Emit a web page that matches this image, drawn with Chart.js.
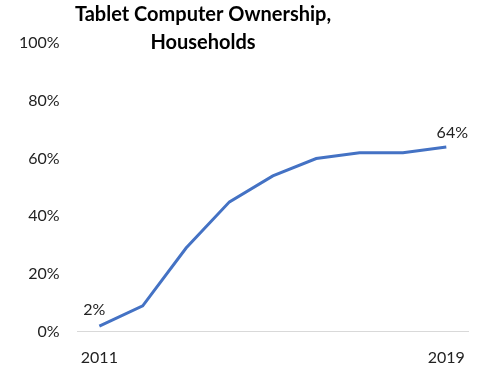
<!DOCTYPE html>
<html><head><meta charset="utf-8">
<script src="https://cdn.jsdelivr.net/npm/chart.js@4"></script>
<style>html,body{margin:0;padding:0;background:#fff}#wrap{width:483px;height:367px}</style>
</head><body><div id="wrap"><canvas id="c"></canvas></div>
<script>
const years = ['2011','2012','2013','2014','2015','2016','2017','2018','2019'];
const ownership = [2, 9, 29, 45, 54, 60, 62, 62, 64];
const yTicks = [0, 20, 40, 60, 80, 100];
const titleLines = ['Tablet Computer Ownership,', 'Households'];
const shownXLabels = ['2011', '2019'];

const FONT = "Lato, 'Open Sans', sans-serif";

const overlay = {
  id: 'overlay',
  afterDraw(chart) {
    const ctx = chart.ctx;
    ctx.save();
    ctx.fillStyle = '#000';
    ctx.font = "bold 20px " + FONT;
    ctx.textAlign = 'center';
    ctx.textBaseline = 'middle';
    ctx.fillText(titleLines[0], 203, 15);
    ctx.fillText(titleLines[1], 203, 43);
    const meta = chart.getDatasetMeta(0);
    ctx.font = "16px " + FONT;
    ctx.fillStyle = '#222';
    const first = meta.data[0], last = meta.data[meta.data.length - 1];
    ctx.fillText(ownership[0] + '%', first.x - 5, first.y - 16);
    ctx.fillText(ownership[ownership.length - 1] + '%', last.x + 6, last.y - 14);
    ctx.restore();
  }
};

new Chart(document.getElementById('c'), {
  type: 'line',
  data: { labels: years, datasets: [{ data: ownership, borderColor: '#4472C4', borderWidth: 3, pointRadius: 0, tension: 0, fill: false }] },
  options: {
    responsive: true, maintainAspectRatio: false, animation: false,
    layout: { padding: { top: 43, right: 15, left: 1, bottom: -16 } },
    plugins: { legend: { display: false }, tooltip: { enabled: false }, title: { display: false } },
    scales: {
      x: {
        offset: true,
        grid: { display: false, drawTicks: false },
        border: { display: true, color: '#d9d9d9', width: 1 },
        ticks: {
          autoSkip: false, maxRotation: 0, padding: 16, color: '#222',
          font: { family: FONT, size: 16 },
          callback: function(v, i) { const l = years[i]; return shownXLabels.includes(l) ? l : ''; }
        }
      },
      y: {
        min: 0, max: 100,
        afterBuildTicks: (s) => { s.ticks = yTicks.map(v => ({ value: v })); },
        grid: { display: false, drawTicks: false },
        border: { display: false },
        ticks: { padding: 18, color: '#222', font: { family: FONT, size: 16 }, callback: v => v + '%' }
      }
    }
  },
  plugins: [overlay]
});
</script></body></html>
